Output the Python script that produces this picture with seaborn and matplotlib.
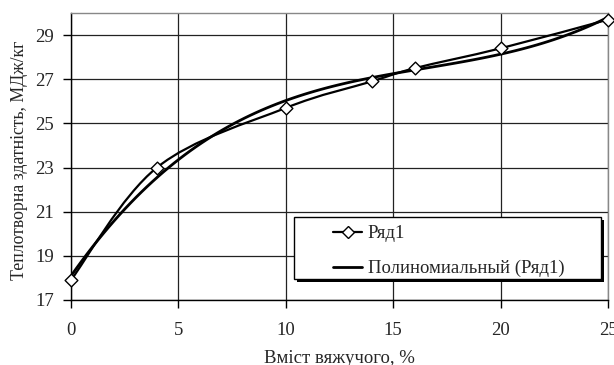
import numpy as np
import pandas as pd
import matplotlib
matplotlib.use("Agg")
import matplotlib.pyplot as plt
import seaborn as sns
from matplotlib.lines import Line2D
from matplotlib.path import Path
from matplotlib.patches import PathPatch, Rectangle

binder = [0, 4, 10, 14, 16, 20, 25]
heat = [17.9, 23.0, 25.7, 26.9, 27.5, 28.4, 29.7]
x_ticks = [0, 5, 10, 15, 20, 25]
y_ticks = [17, 19, 21, 23, 25, 27, 29]
labels = ["Ряд1", "Полиномиальный (Ряд1)"]

df = pd.DataFrame({"x": binder, "y": heat})

sns.set_style("white")
plt.rcParams["font.family"] = ["Liberation Serif", "DejaVu Serif"]

FS = 13.5
fig = plt.figure(figsize=(6.14, 3.65), dpi=100)
ax = fig.add_axes([71/614, 1 - 300/365, (608-71)/614, (300-13)/365])

# polynomial trendline (3rd order) fitted by seaborn
sns.regplot(data=df, x="x", y="y", order=3, ci=None, scatter=False, truncate=True,
            line_kws=dict(color="black", lw=2.0, zorder=3), ax=ax)

# smoothed series line (Excel-like Bezier smoothing through the data points)
pts = np.column_stack([binder, heat]).astype(float)
ext = np.vstack([pts[0], pts, pts[-1]])
verts = [tuple(pts[0])]
codes = [Path.MOVETO]
for i in range(len(pts) - 1):
    p0, p1, p2, p3 = ext[i], ext[i + 1], ext[i + 2], ext[i + 3]
    c1 = p1 + (p2 - p0) / 6.0
    c2 = p2 - (p3 - p1) / 6.0
    verts += [tuple(c1), tuple(c2), tuple(p2)]
    codes += [Path.CURVE4] * 3
ax.add_patch(PathPatch(Path(verts, codes), fill=False, edgecolor="black", lw=1.6,
                       zorder=4, transform=ax.transData))
sns.scatterplot(data=df, x="x", y="y", marker="D", s=42, color="white",
                edgecolor="black", linewidth=1.0, zorder=5, ax=ax, clip_on=False)

ax.set_xlim(0, 25)
ax.set_ylim(17, 30)
ax.set_xticks(x_ticks)
ax.set_yticks(y_ticks)
ax.grid(True, color="#222222", lw=0.9)
ax.set_axisbelow(True)
for s in ["top", "right"]:
    ax.spines[s].set_color("#888888")
    ax.spines[s].set_linewidth(1.0)
for s in ["left", "bottom"]:
    ax.spines[s].set_color("black")
    ax.spines[s].set_linewidth(1.0)
ax.tick_params(axis="both", which="major", direction="out", length=6, width=1,
               color="black", labelsize=FS, left=True, bottom=True)
ax.tick_params(axis="x", pad=9.5)
ax.tick_params(axis="y", pad=6)
ax.set_xlabel("Вміст вяжучого, %", fontsize=FS, labelpad=8.5)
ax.set_ylabel("Теплотворна здатність, МДж/кг", fontsize=12.8)
ax.yaxis.set_label_coords(-0.080, 0.488)

# legend box with shadow
def px2ax(px, py):
    return (px - 71) / 537, (300 - py) / 287

bx0, by0 = px2ax(294, 279)
bx1, by1 = px2ax(601, 217)
sx, sy = 3 / 537, 3 / 287
ax.add_patch(Rectangle((bx0 + sx, by0 - sy), bx1 - bx0, by1 - by0, transform=ax.transAxes,
                       facecolor="black", edgecolor="black", lw=0, zorder=6))
ax.add_patch(Rectangle((bx0, by0), bx1 - bx0, by1 - by0, transform=ax.transAxes,
                       facecolor="white", edgecolor="black", lw=1.0, zorder=7))

handles = [
    Line2D([0], [0], color="black", lw=1.6, marker="D", markersize=6,
           markerfacecolor="white", markeredgecolor="black"),
    Line2D([0], [0], color="black", lw=2.0),
]
lx, ly = px2ax(333, 225)
leg = ax.legend(handles, labels, loc="upper left", bbox_to_anchor=(lx, ly),
                fontsize=FS, frameon=False, handlelength=1.55, handletextpad=0.3,
                borderpad=0, borderaxespad=0, labelspacing=0.95)
leg.set_zorder(8)

fig.savefig("out.png", dpi=100)
